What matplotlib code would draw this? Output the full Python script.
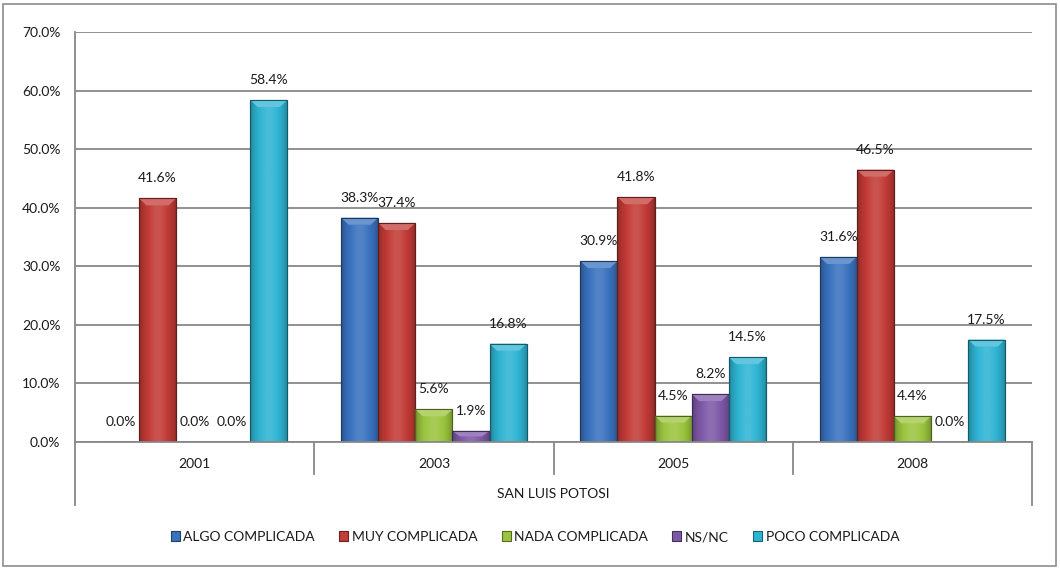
import matplotlib
matplotlib.use("Agg")
import matplotlib.pyplot as plt
import numpy as np
from matplotlib.colors import to_rgb
from matplotlib.patches import Rectangle
from matplotlib.lines import Line2D

years = ["2001", "2003", "2005", "2008"]
group_label = "SAN LUIS POTOSI"
series_names = ["ALGO COMPLICADA", "MUY COMPLICADA", "NADA COMPLICADA", "NS/NC", "POCO COMPLICADA"]
algo = [0.0, 38.3, 30.9, 31.6]
muy = [41.6, 37.4, 41.8, 46.5]
nada = [0.0, 5.6, 4.5, 4.4]
nsnc = [0.0, 1.9, 8.2, 0.0]
poco = [58.4, 16.8, 14.5, 17.5]
yticks = [0, 10, 20, 30, 40, 50, 60, 70]

series = [algo, muy, nada, nsnc, poco]
colors = ["#3A72BE", "#C23B36", "#9BC43E", "#7E58A8", "#2EB4D3"]

FONT = "Lato"
plt.rcParams['font.family'] = [FONT, 'DejaVu Sans']
FS = 10
TXT = "#1a1a1a"

fig = plt.figure(figsize=(10.6, 5.69), dpi=100)
fig.patches.append(Rectangle((3/1060, 3/569), 1 - 7/1060, 1 - 7/569, transform=fig.transFigure,
                             fill=False, edgecolor="#8c8c8c", linewidth=1.2))
L, R, T, B = 75, 1032, 32, 442
ax = fig.add_axes([L/1060, 1 - B/569, (R-L)/1060, (B-T)/569])

x = np.arange(len(years))
w = 0.155

def shade(c, f):
    c = np.array(to_rgb(c))
    if f >= 0:
        return c + (1 - c) * f
    return c * (1 + f)

ax.set_xlim(-0.5, 3.5)
ax.set_ylim(0, 70)

for i, (name, vals, col) in enumerate(zip(series_names, series, colors)):
    xs = x + (i - 2) * w
    bars = ax.bar(xs, vals, width=w, color=col, edgecolor=shade(col, -0.45),
                  linewidth=0.8, zorder=3, label=name)
    for b, v in zip(bars, vals):
        if v > 0:
            bx, bw = b.get_x(), b.get_width()
            n = 64
            t = np.linspace(0, 1, n)
            prof = np.where(t < 0.5, -0.35 + 0.5 * (t / 0.5) ** 0.5, -0.35 + 0.5 * ((1 - t) / 0.5) ** 0.5)
            prof = np.clip(prof, -0.4, 0.12)
            img = np.array([[shade(col, p) for p in prof]])
            im = ax.imshow(img, extent=(bx, bx + bw, 0, v), aspect='auto', zorder=3.1,
                           interpolation='bilinear')
            im.set_clip_path(b)
            bev = min(1.2, v * 0.5)
            ax.fill([bx, bx + bw, bx + bw * 0.8, bx + bw * 0.2],
                    [v, v, v - bev, v - bev], color=shade(col, 0.25), zorder=3.2, linewidth=0)
            ax.add_patch(Rectangle((bx, 0), bw, v, fill=False, edgecolor=shade(col, -0.5),
                                   linewidth=0.8, zorder=3.3))
        ax.annotate(f"{v:.1f}%", (b.get_x() + b.get_width() / 2, v), xytext=(0, 20),
                    textcoords='offset pixels', ha='center', va='center', fontsize=FS,
                    color=TXT, zorder=5)

ax.set_xlim(-0.5, 3.5)
ax.set_ylim(0, 70)
ax.set_yticks(yticks)
ax.set_yticklabels([f"{v:.1f}%" for v in yticks], fontsize=FS, color=TXT)
ax.yaxis.grid(True, color="#888888", linewidth=1.3, zorder=0)
ax.set_axisbelow(True)
ax.tick_params(axis='y', length=0, pad=10.5)
ax.set_xticks([])
for s in ['top', 'right', 'bottom']:
    ax.spines[s].set_visible(False)
ax.spines['left'].set_color("#888888")
ax.spines['left'].set_linewidth(1.3)

tr = ax.get_xaxis_transform()
ax.add_line(Line2D([-0.5, 3.5], [0, 0], transform=tr, color="#888888", lw=1.3, clip_on=False, zorder=4))
h1 = 32 / (B - T)
h2 = 63 / (B - T)
for xv in [0.5, 1.5, 2.5]:
    ax.add_line(Line2D([xv, xv], [0, -h1], transform=tr, color="#888888", lw=1.3, clip_on=False))
for xv in [-0.5, 3.5]:
    ax.add_line(Line2D([xv, xv], [0, -h2], transform=tr, color="#888888", lw=1.3, clip_on=False))
for xi, yl in zip(x, years):
    ax.text(xi, -22 / (B - T), yl, transform=tr, ha='center', va='center', fontsize=FS, color=TXT)
ax.text(1.5, -52 / (B - T), group_label, transform=tr, ha='center', va='center', fontsize=FS, color=TXT)

leg = fig.legend(loc='center', bbox_to_anchor=(535/1060, 1 - 537/569), ncol=5, frameon=False,
                 fontsize=FS, handlelength=0.65, handleheight=0.65, handletextpad=0.25,
                 columnspacing=1.75, borderaxespad=0)
for t in leg.get_texts():
    t.set_color(TXT)

fig.savefig("out.png", dpi=100)
